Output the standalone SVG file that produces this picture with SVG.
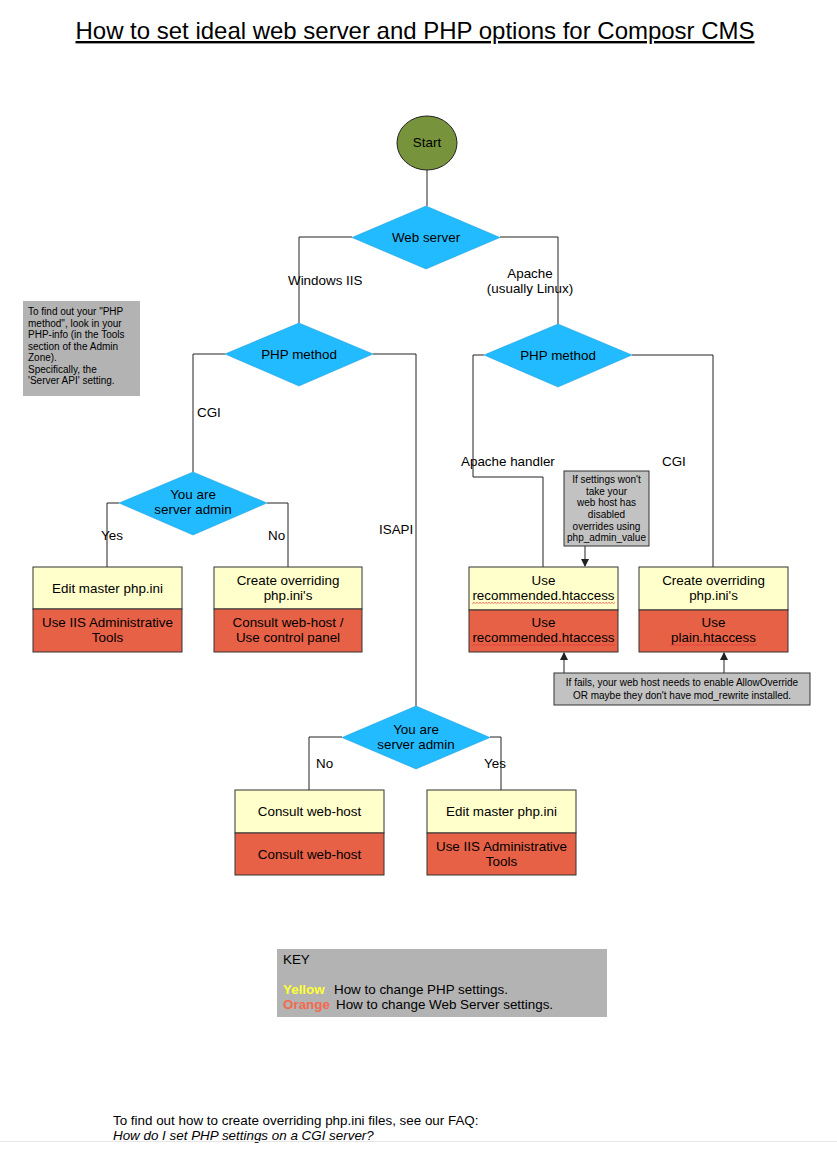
<svg xmlns="http://www.w3.org/2000/svg" width="837" height="1149" viewBox="0 0 837 1149">
<style>
text{font-family:"Liberation Sans",Arial,sans-serif;fill:#000}
.t{font-size:13.4px;text-anchor:middle}
.l{font-size:13.4px}
.n{font-size:10px;text-anchor:middle}
.nl{font-size:10px}
.dia{fill:#22bbff;stroke:#1a9ad6;stroke-width:0.5}
.yel{fill:#ffffcc;stroke:#333;stroke-width:1}
.org{fill:#e66146;stroke:#333;stroke-width:1}
.note{fill:#c2c2c2;stroke:#333;stroke-width:1}
.c{fill:none;stroke:#222;stroke-width:1}
.sq{fill:url(#wave)}
</style>
<defs>
<marker id="ah" markerWidth="8" markerHeight="8" refX="7" refY="4" orient="auto" markerUnits="userSpaceOnUse">
<path d="M0,0 L8,4 L0,8 z" fill="#222"/>
</marker>
<pattern id="wave" x="0" y="0" width="3" height="2" patternUnits="userSpaceOnUse">
<path d="M0,0.3 L1.5,1.7 L3,0.3" fill="none" stroke="#e03030" stroke-width="0.7"/>
</pattern>
</defs>
<rect width="837" height="1149" fill="#fff"/>
<text x="415" y="39" textLength="679" lengthAdjust="spacingAndGlyphs" style="font-size:24px;text-anchor:middle;text-decoration:underline">How to set ideal web server and PHP options for Composr CMS</text>

<g id="connectors">
<path class="c" d="M427,170 V206"/>
<path class="c" d="M352,237 H299 V323"/>
<path class="c" d="M500,237 H558 V324"/>
<path class="c" d="M225,354 H193 V472"/>
<path class="c" d="M373,354 H416 V706"/>
<path class="c" d="M119,503 H107 V567"/>
<path class="c" d="M267,503 H288 V567"/>
<path class="c" d="M484,355 H473 V477 H543 V567"/>
<path class="c" d="M632,355 H713 V567"/>
<path class="c" d="M342,737 H309 V790"/>
<path class="c" d="M490,737 H501 V790"/>
<path class="c" d="M585,546 V566" marker-end="url(#ah)"/>
<path class="c" d="M564,673 V653" marker-end="url(#ah)"/>
<path class="c" d="M724,673 V653" marker-end="url(#ah)"/>
<text class="l" x="288" y="285">Windows IIS</text>
<text class="t" x="530" y="278">Apache</text>
<text class="t" x="530" y="293">(usually Linux)</text>
<text class="l" x="197" y="417">CGI</text>
<text class="l" x="379" y="534">ISAPI</text>
<text class="l" x="101" y="540">Yes</text>
<text class="l" x="268" y="540">No</text>
<text class="l" x="461" y="466">Apache handler</text>
<text class="l" x="662" y="466">CGI</text>
<text class="l" x="316" y="768">No</text>
<text class="l" x="484" y="768">Yes</text>
</g>

<g id="start">
<ellipse cx="427" cy="143" rx="30" ry="27" fill="#77933c" stroke="#222" stroke-width="1"/>
<text class="t" x="427" y="147">Start</text>
</g>

<g id="web-server">
<polygon class="dia" points="426,206 500,237.5 426,269 352,237.5"/>
<text class="t" x="426" y="242">Web server</text>
</g>

<g id="php-method-iis">
<polygon class="dia" points="299,323 373,354 299,386 225,354"/>
<text class="t" x="299" y="359">PHP method</text>
</g>

<g id="php-method-apache">
<polygon class="dia" points="558,324 632,355 558,387 484,355"/>
<text class="t" x="558" y="360">PHP method</text>
</g>

<g id="admin-cgi">
<polygon class="dia" points="193,472 267,503 193,535 119,503"/>
<text class="t" x="193" y="499">You are</text>
<text class="t" x="193" y="514">server admin</text>
</g>

<g id="admin-isapi">
<polygon class="dia" points="416,706 490,737.5 416,769 342,737.5"/>
<text class="t" x="416" y="734">You are</text>
<text class="t" x="416" y="749">server admin</text>
</g>

<g id="cgi-yes">
<rect class="yel" x="33" y="567" width="149" height="42"/>
<rect class="org" x="33" y="609" width="149" height="43"/>
<text class="t" x="107.5" y="593">Edit master php.ini</text>
<text class="t" x="107.5" y="627">Use IIS Administrative</text>
<text class="t" x="107.5" y="642">Tools</text>
</g>

<g id="cgi-no">
<rect class="yel" x="214" y="567" width="148" height="42"/>
<rect class="org" x="214" y="609" width="148" height="43"/>
<text class="t" x="288" y="585">Create overriding</text>
<text class="t" x="288" y="600">php.ini's</text>
<text class="t" x="288" y="627">Consult web-host /</text>
<text class="t" x="288" y="642">Use control panel</text>
</g>

<g id="apache-handler">
<rect class="yel" x="469" y="567" width="149" height="43"/>
<rect class="org" x="469" y="610" width="149" height="42"/>
<text class="t" x="543.5" y="585">Use</text>
<text class="t" x="543.5" y="600">recommended.htaccess</text>
<rect class="sq" x="472" y="602" width="143" height="2"/>
<text class="t" x="543.5" y="627">Use</text>
<text class="t" x="543.5" y="642">recommended.htaccess</text>
<rect class="sq" x="472" y="644" width="143" height="2"/>
</g>

<g id="apache-cgi">
<rect class="yel" x="639" y="567" width="149" height="43"/>
<rect class="org" x="639" y="610" width="149" height="42"/>
<text class="t" x="713.5" y="585">Create overriding</text>
<text class="t" x="713.5" y="600">php.ini's</text>
<text class="t" x="713.5" y="627">Use</text>
<text class="t" x="713.5" y="642">plain.htaccess</text>
<rect class="sq" x="670" y="644" width="87" height="2"/>
</g>

<g id="isapi-no">
<rect class="yel" x="235" y="790" width="149" height="43"/>
<rect class="org" x="235" y="833" width="149" height="42"/>
<text class="t" x="309.5" y="816">Consult web-host</text>
<text class="t" x="309.5" y="859">Consult web-host</text>
</g>

<g id="isapi-yes">
<rect class="yel" x="427" y="790" width="149" height="43"/>
<rect class="org" x="427" y="833" width="149" height="42"/>
<text class="t" x="501.5" y="816">Edit master php.ini</text>
<text class="t" x="501.5" y="851">Use IIS Administrative</text>
<text class="t" x="501.5" y="866">Tools</text>
</g>

<g id="note-php-method">
<rect x="23" y="301" width="117" height="95" fill="#b3b3b3"/>
<text class="nl" x="28" y="315">To find out your "PHP</text>
<text class="nl" x="28" y="326.5">method", look in your</text>
<text class="nl" x="28" y="338">PHP-info (in the Tools</text>
<text class="nl" x="28" y="349.5">section of the Admin</text>
<text class="nl" x="28" y="361">Zone).</text>
<text class="nl" x="28" y="372.5">Specifically, the</text>
<text class="nl" x="28" y="384">'Server API' setting.</text>
</g>

<g id="note-settings">
<rect class="note" x="564" y="471" width="85" height="75"/>
<text class="n" x="606.5" y="483">If settings won't</text>
<text class="n" x="606.5" y="495">take your</text>
<text class="n" x="606.5" y="506">web host has</text>
<text class="n" x="606.5" y="518">disabled</text>
<text class="n" x="606.5" y="529.5">overrides using</text>
<text class="n" x="606.5" y="541">php_admin_value</text>
</g>

<g id="note-fails">
<rect class="note" x="554" y="673" width="256" height="32"/>
<text class="n" x="682" y="686">If fails, your web host needs to enable AllowOverride</text>
<text class="n" x="682" y="698.5">OR maybe they don't have mod_rewrite installed.</text>
</g>

<g id="key">
<rect x="277" y="949" width="330" height="68" fill="#b3b3b3"/>
<text class="l" x="283" y="964">KEY</text>
<text class="l" x="283" y="994" style="fill:#ffff33;font-weight:bold">Yellow</text>
<text class="l" x="334" y="994">How to change PHP settings.</text>
<text class="l" x="283" y="1009" style="fill:#f26a4f;font-weight:bold">Orange</text>
<text class="l" x="336" y="1009">How to change Web Server settings.</text>
</g>

<g id="footer">
<text class="l" x="113" y="1125">To find out how to create overriding php.ini files, see our FAQ:</text>
<text class="l" x="113" y="1140" style="font-style:italic">How do I set PHP settings on a CGI server?</text>
<line x1="0" y1="1141.5" x2="837" y2="1141.5" stroke="#e6e6e6" stroke-width="1"/>
</g>
</svg>
